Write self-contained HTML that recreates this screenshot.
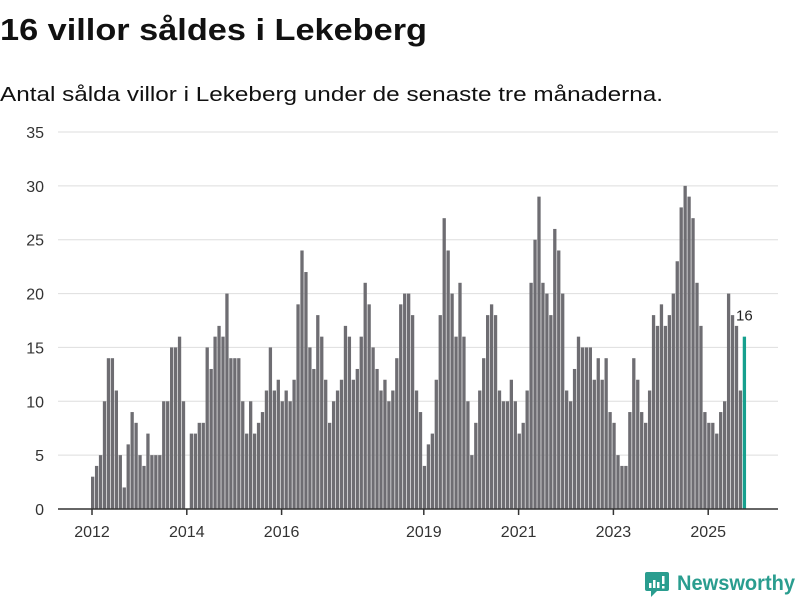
<!DOCTYPE html>
<html><head><meta charset="utf-8">
<style>
html,body{margin:0;padding:0;background:#fff;width:800px;height:600px;overflow:hidden}
svg{display:block;font-family:"Liberation Sans",sans-serif}
</style></head>
<body>
<svg id="chart" width="800" height="600" viewBox="0 0 800 600">
<text x="0" y="40" font-size="31" font-weight="bold" fill="#111" textLength="427" lengthAdjust="spacingAndGlyphs">16 villor såldes i Lekeberg</text>
<text x="0" y="101" font-size="20" fill="#111" textLength="663" lengthAdjust="spacingAndGlyphs">Antal sålda villor i Lekeberg under de senaste tre månaderna.</text>
<g id="grid"></g>
<g id="bars"></g>
<g id="xaxis"></g>
<g>
<rect x="645" y="572" width="24" height="19" rx="2" fill="#2a9d8f"/>
<path d="M651 591 L651 597 L657 591 Z" fill="#2a9d8f"/>
<rect x="649" y="583" width="2.5" height="5" fill="#fff"/><rect x="653" y="580" width="2.5" height="8" fill="#fff"/><rect x="657" y="582" width="2.5" height="6" fill="#fff"/><rect x="662" y="576" width="2.5" height="8" fill="#fff"/><rect x="662" y="586" width="2.5" height="2.5" fill="#fff"/>
<text x="677" y="590" font-size="21" font-weight="bold" fill="#2a9d8f" textLength="118" lengthAdjust="spacingAndGlyphs">Newsworthy</text>
</g>
</svg>
<script>
const values = [3,4,5,10,14,14,11,5,2,6,9,8,
5,4,7,5,5,5,10,10,15,15,16,10,
0,7,7,8,8,15,13,16,17,16,20,14,
14,14,10,7,10,7,8,9,11,15,11,12,
10,11,10,12,19,24,22,15,13,18,16,12,
8,10,11,12,17,16,12,13,16,21,19,15,
13,11,12,10,11,14,19,20,20,18,11,9,
4,6,7,12,18,27,24,20,16,21,16,10,
5,8,11,14,18,19,18,11,10,10,12,10,
7,8,11,21,25,29,21,20,18,26,24,20,
11,10,13,16,15,15,15,12,14,12,14,9,
8,5,4,4,9,14,12,9,8,11,18,17,
19,17,18,20,23,28,30,29,27,21,17,9,
8,8,7,9,10,20,18,17,11,16];
const yTicks = [0,5,10,15,20,25,30,35];
const xTickYears = [2012,2014,2016,2019,2021,2023,2025];
const startYear = 2012;
const NS="http://www.w3.org/2000/svg";
const x0=91, step=3.95, bw=3.3;
const xScale = i => x0 + i*step;
const yScale = v => 509 - v*(377/35);
function mk(tag, attrs, parent){const e=document.createElementNS(NS,tag);for(const k in attrs)e.setAttribute(k,attrs[k]);parent.appendChild(e);return e;}
const grid=document.getElementById('grid');
yTicks.forEach(t=>{
  if(t>0){const l=mk('line',{x1:58,x2:778,y1:yScale(t),y2:yScale(t),stroke:'#dedede','stroke-width':1},grid);
  
  }
  const tx=mk('text',{x:44,y:yScale(t)+6,'font-size':16,fill:'#333','text-anchor':'end'},grid);
  tx.textContent=t;
  
  
});
const bars=document.getElementById('bars');
values.forEach((v,i)=>{
  const last=i===values.length-1;
  const r=mk('rect',{x:xScale(i),y:yScale(v),width:bw,height:yScale(0)-yScale(v),fill:last?'#16a08e':'#6e6d72'},bars);
  
  
  if(last){const t=mk('text',{x:xScale(i)+bw/2,y:yScale(v)-16,'font-size':15,fill:'#222','text-anchor':'middle'},bars);
    t.textContent=v;
    
    }
});
const xa=document.getElementById('xaxis');
const ax=mk('line',{x1:58,x2:778,y1:509,y2:509,stroke:'#333','stroke-width':1.5},xa);


xTickYears.forEach(yr=>{
  const x=xScale((yr-startYear)*12)+1;
  const tk=mk('line',{x1:x,x2:x,y1:509,y2:515,stroke:'#333','stroke-width':1.5},xa);
  
  
  const t=mk('text',{x:x,y:537,'font-size':16,fill:'#333','text-anchor':'middle'},xa);
  t.textContent=yr;
  
  
});
</script>
</body></html>
